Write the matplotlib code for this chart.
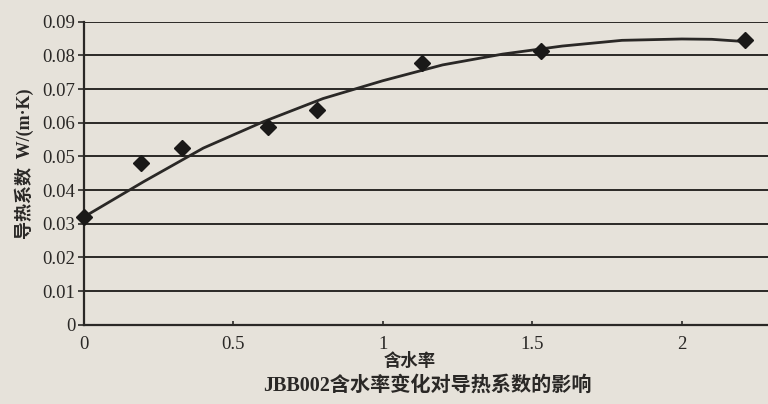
import matplotlib
matplotlib.use("Agg")
import matplotlib.pyplot as plt

# measured points: moisture content vs thermal conductivity
moisture = [0.0, 0.19, 0.33, 0.615, 0.78, 1.13, 1.53, 2.21]
conductivity = [0.032, 0.048, 0.0525, 0.0587, 0.0638, 0.0777, 0.0812, 0.0845]

# trend curve drawn through the data
trend_x = [0.0, 0.2, 0.4, 0.6, 0.8, 1.0, 1.2, 1.4, 1.6, 1.8, 2.0, 2.1, 2.2]
trend_y = [0.032, 0.0425, 0.0525, 0.0603, 0.0672, 0.0725, 0.0772, 0.0804,
           0.0828, 0.0845, 0.0849, 0.0848, 0.0842]

y_ticks = [0, 0.01, 0.02, 0.03, 0.04, 0.05, 0.06, 0.07, 0.08, 0.09]
y_tick_labels = ["0", "0.01", "0.02", "0.03", "0.04", "0.05", "0.06", "0.07", "0.08", "0.09"]
x_ticks = [0, 0.5, 1, 1.5, 2]
x_tick_labels = ["0", "0.5", "1", "1.5", "2"]

paper = "#e6e2da"
ink = "#2a2826"

plt.rcParams["font.family"] = ["Liberation Serif", "Noto Sans CJK SC"]

fig = plt.figure(figsize=(7.68, 4.04), dpi=100, facecolor=paper)
ax = fig.add_axes([0.109, 0.196, 0.891, 0.75], facecolor=paper)

ax.set_xlim(0, 2.288)
ax.set_ylim(0, 0.09)

for v in y_ticks[1:]:
    ax.axhline(v, color=ink, lw=1.4, zorder=1)

ax.plot(trend_x, trend_y, color=ink, lw=2.0, zorder=3, clip_on=False)
ax.plot(moisture, conductivity, linestyle="none", marker="D", ms=8,
        color="#1a1918", zorder=4, clip_on=False)

ax.set_yticks(y_ticks)
ax.set_yticklabels(y_tick_labels, fontsize=13.5, color=ink)
ax.set_xticks(x_ticks)
ax.set_xticklabels(x_tick_labels, fontsize=13.5, color=ink)
ax.tick_params(axis="y", direction="out", length=4, width=1.2, colors=ink, pad=2)
ax.tick_params(axis="x", direction="in", length=3, width=1.2, colors=ink, pad=8)

for side in ("top", "right"):
    ax.spines[side].set_visible(False)
for side in ("left", "bottom"):
    ax.spines[side].set_color(ink)
    ax.spines[side].set_linewidth(1.6)

ax.set_ylabel("导热系数  W/(m·K)", fontsize=13, color=ink, labelpad=4,
              fontweight="bold")
ax.yaxis.set_label_coords(-0.072, 0.53)

fig.text(0.534, 0.106, "含水率", ha="center", va="center", fontsize=12.5,
         color=ink, fontweight="bold", family=["Noto Sans CJK SC"])
fig.text(0.557, 0.045, "JBB002含水率变化对导热系数的影响", ha="center", va="center",
         fontsize=14.5, color=ink, fontweight="bold")

fig.savefig("out.png", dpi=100, facecolor=paper)
